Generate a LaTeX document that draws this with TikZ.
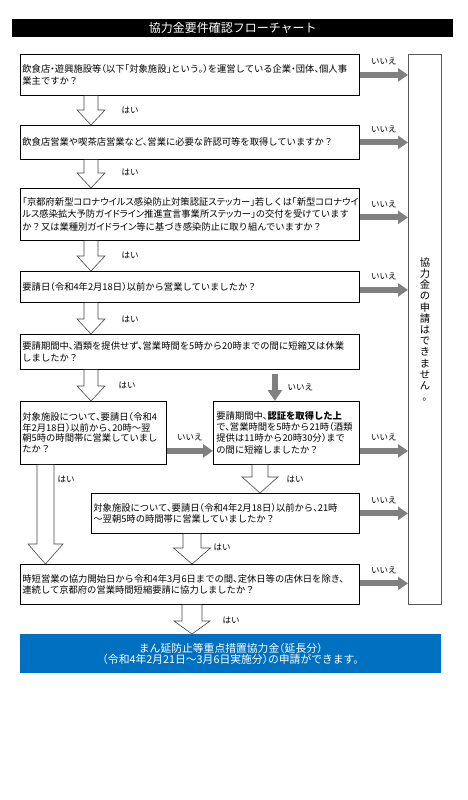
\documentclass[tikz,border=0pt]{standalone}
\usepackage{fontspec}
\setmainfont{Noto Sans CJK JP}[RawFeature={+halt}]
\newfontfamily\pkana{Noto Sans CJK JP}[RawFeature={+palt}]
\usetikzlibrary{arrows.meta,calc}
\definecolor{arrgray}{RGB}{128,128,128}
\definecolor{boxblue}{RGB}{0,112,192}
\definecolor{hollowline}{RGB}{70,70,70}
\definecolor{nbline}{RGB}{90,90,90}
\newcommand\pk[1]{{\pkana #1}}
% hollow block arrow pointing down: x, from anchor, to anchor, shaft half width, head half width, head length
\newcommand\hdown[6]{%
  \draw[hollowarr] let \p1=(#2), \p2=(#3) in
    (#1pt-#4pt,\y1) -- (#1pt-#4pt,\y2+#6pt) -- (#1pt-#5pt,\y2+#6pt) -- (#1pt,\y2)
    -- (#1pt+#5pt,\y2+#6pt) -- (#1pt+#4pt,\y2+#6pt) -- (#1pt+#4pt,\y1);}
\begin{document}
\begin{tikzpicture}[x=1pt,y=-1pt,
  qbox/.style={draw=black, line width=0.8pt, rectangle, inner xsep=2pt, inner ysep=0pt,
    align=left, anchor=north west, font=\fontsize{9.3}{11.5}\selectfont},
  hollowarr/.style={draw=hollowline, fill=white, line width=0.6pt, line join=miter},
  grayarr/.style={draw=arrgray, line width=6pt, -{Triangle[width=13pt,length=10pt]}},
  lbl/.style={font=\fontsize{8.5}{9}\selectfont, inner sep=0pt}]
\useasboundingbox[fill=white] (0,0) rectangle (467,800);

% title
\node[fill=black, text=white, minimum width=441, minimum height=18, inner sep=0pt,
  anchor=north west, font=\fontsize{12}{13}\selectfont] (title) at (12,19) {協力金要件確認フローチャート};

% right-hand box
\node[draw=nbline, line width=0.8pt, minimum width=33, minimum height=550, inner sep=0pt,
  anchor=north west, align=center, font=\fontsize{10.3}{11.2}\selectfont] (nb) at (408,54)
  {協\\力\\金\\の\\申\\請\\は\\で\\き\\ま\\せ\\ん\\。};

% question boxes
\node[qbox, minimum width=339, minimum height=41, text width=335] (b1) at (20,54)
  {飲食店・遊興施設等（以下「対象施設」という。）を運営している企業・団体、個人事\\業主ですか？};
\node[qbox, minimum width=339, minimum height=34, text width=335] (b2) at (20,125)
  {飲食店営業や喫茶店営業など、営業に必要な許認可等を取得していますか？};
\node[qbox, minimum width=339, minimum height=52, text width=335, font=\fontsize{9.3}{12.5}\selectfont] (b3) at (20,188)
  {「京都府新型\pk{コロナウイルス}感染防止対策認証\pk{ステッカー}」若しくは「新型\pk{コロナウイ}\\\pk{ルス}感染拡大予防\pk{ガイドライン}推進宣言事業所\pk{ステッカー}」の交付を受けています\\か？又は業種別\pk{ガイドライン}等に基づき感染防止に取り組んでいますか？};
\node[qbox, minimum width=339, minimum height=31, text width=335] (b4) at (20,271)
  {要請日（令和4年2月18日）以前から営業していましたか？};
\node[qbox, minimum width=339, minimum height=35, text width=335] (b5) at (20,334)
  {要請期間中、酒類を提供せず、営業時間を5時から20時までの間に短縮又は休業\\しましたか？};
\node[qbox, minimum width=146, minimum height=63, text width=142, font=\fontsize{9.3}{10.5}\selectfont] (b6) at (20,401)
  {対象施設について、要請日（令和4\\年2月18日）以前から、20時～翌\\朝5時の時間帯に営業していまし\\たか？};
\node[qbox, minimum width=146, minimum height=63, text width=140, inner xsep=3pt, font=\fontsize{9.3}{11}\selectfont] (b7) at (213,401)
  {要請期間中、\textbf{認証を取得した上}\\で、営業時間を5時から21時（酒類\\提供は11時から20時30分）まで\\の間に短縮しましたか？};
\node[qbox, minimum width=268, minimum height=40, text width=264] (b8) at (91,493)
  {対象施設について、要請日（令和4年2月18日）以前から、21時\\～翌朝5時の時間帯に営業していましたか？};
\node[qbox, minimum width=339, minimum height=40, text width=335, font=\fontsize{9.3}{10.5}\selectfont] (b9) at (20,564)
  {時短営業の協力開始日から令和4年3月6日までの間、定休日等の店休日を除き、\\連続して京都府の営業時間短縮要請に協力しましたか？};

% result box
\node[fill=boxblue, text=white, minimum width=421, minimum height=39, inner sep=0pt,
  anchor=north west, align=center, font=\fontsize{10.8}{11.5}\selectfont] (res) at (20,634)
  {まん延防止等重点措置協力金（延長分）\\（令和4年2月21日～3月6日実施分）の申請ができます。};

% "no" arrows to the right-hand box
\draw[grayarr] (b1.east) -- node[lbl, above=7pt] {いいえ} (nb.west |- b1.east);
\draw[grayarr] (b2.east) -- node[lbl, above=7pt] {いいえ} (nb.west |- b2.east);
\draw[grayarr] ($(b3.east)+(0,3)$) coordinate (b3e) -- node[lbl, above=7pt] {いいえ} (nb.west |- b3e);
\draw[grayarr] ($(b4.east)+(0,3)$) coordinate (b4e) -- node[lbl, above=7pt] {いいえ} (nb.west |- b4e);
\draw[grayarr] ($(b6.east)+(0,18)$) coordinate (b6e) -- node[lbl, above=7pt] {いいえ} (b7.west |- b6e);
\draw[grayarr] ($(b7.east)+(0,18)$) coordinate (b7e) -- node[lbl, above=7pt] {いいえ} (nb.west |- b7e);
\draw[grayarr] (b8.east) -- node[lbl, above=7pt] {いいえ} (nb.west |- b8.east);
\draw[grayarr] ($(b9.east)+(0,-1)$) coordinate (b9e) -- node[lbl, above=7pt] {いいえ} (nb.west |- b9e);
\draw[draw=arrgray, line width=5.5pt, -{Triangle[width=14pt,length=11pt]}]
  ($(b5.south -| b7.north)+(-11.5,4)$) -- node[lbl, right=10pt] {いいえ} ($(b7.north)+(-11.5,0)$);

% "yes" hollow arrows
\hdown{91}{b1.south}{b2.north}{7}{14}{15}
\hdown{91}{b2.south}{b3.north}{7}{14}{15}
\hdown{91}{b3.south}{b4.north}{7}{14}{15}
\hdown{91}{b4.south}{b5.north}{7}{14}{15}
\hdown{91}{b5.south}{b6.north}{7}{14}{15}
\hdown{45.5}{b6.south}{b9.north}{8.5}{17.5}{20}
\hdown{260}{b7.south}{b8.north}{8}{18}{16}
\hdown{192}{b8.south}{b9.north}{9}{18.5}{16}
\hdown{192}{b9.south}{res.north}{10}{18}{13}

\node[lbl] (y1) at (130,110) {はい};
\node[lbl] (y2) at (130,172) {はい};
\node[lbl] (y3) at (130,255) {はい};
\node[lbl] (y4) at (130,319) {はい};
\node[lbl] (y5) at (127,385) {はい};
\node[lbl] (y6) at (66,479) {はい};
\node[lbl] (y7) at (295,479) {はい};
\node[lbl] (y8) at (222,547) {はい};
\node[lbl] (y9) at (231,620) {はい};
\end{tikzpicture}
\end{document}
